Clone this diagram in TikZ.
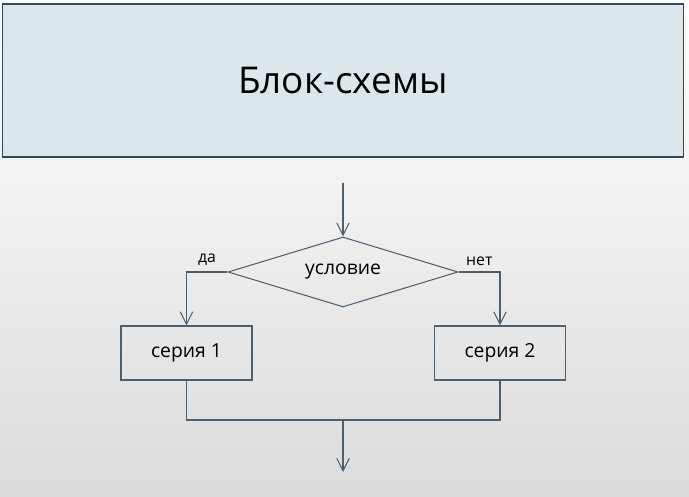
\documentclass[tikz,border=0pt]{standalone}
\usepackage{fontspec}
\setmainfont{Open Sans}
\usetikzlibrary{shapes.geometric,arrows.meta,positioning}
\definecolor{linec}{HTML}{4A6070}
\definecolor{titlefill}{HTML}{DCE7EC}
\definecolor{titleline}{HTML}{2E4A5A}
\tikzset{
  block/.style={draw=linec, semithick, minimum width=2.62cm, minimum height=1.08cm, font=\fontsize{11}{13}\selectfont},
  cond/.style={draw=linec, semithick, diamond, aspect=3.3, minimum width=4.6cm, minimum height=1.4cm, inner sep=0pt, font=\fontsize{11}{13}\selectfont},
  flow/.style={draw=linec, semithick, -{Straight Barb[length=2.5mm,width=2.5mm]}},
  wire/.style={draw=linec, semithick}
}
\begin{document}
\begin{tikzpicture}
  % Background and frame
  \shade[top color=white, bottom color=black!14] (0,0) rectangle (13.78,9.94);
  \useasboundingbox (0,0) rectangle (13.78,9.94);
  \node[draw=titleline, fill=titlefill, line width=1pt, minimum width=13.62cm, minimum height=3.06cm,
        font=\fontsize{21}{24}\selectfont] (title) at (6.86,8.33) {Блок-схемы};

  % Flowchart
  \coordinate (in) at (6.86,6.28);
  \node[cond] (cond) at (6.86,4.5) {условие};
  \node[block] (s1) at (3.73,2.88) {серия 1};
  \node[block] (s2) at (10.0,2.88) {серия 2};
  \coordinate (join) at (6.86,1.54);
  \coordinate (out) at (6.86,0.5);

  \draw[flow] (in) -- (cond.north);
  \draw[flow] (cond.west) -| node[pos=0.25, above, font=\small] {да} (s1.north);
  \draw[flow] (cond.east) -| node[pos=0.25, above, font=\small] {нет} (s2.north);
  \draw[wire] (s1.south) |- (join) -| (s2.south);
  \draw[flow] (join) -- (out);
\end{tikzpicture}
\end{document}
